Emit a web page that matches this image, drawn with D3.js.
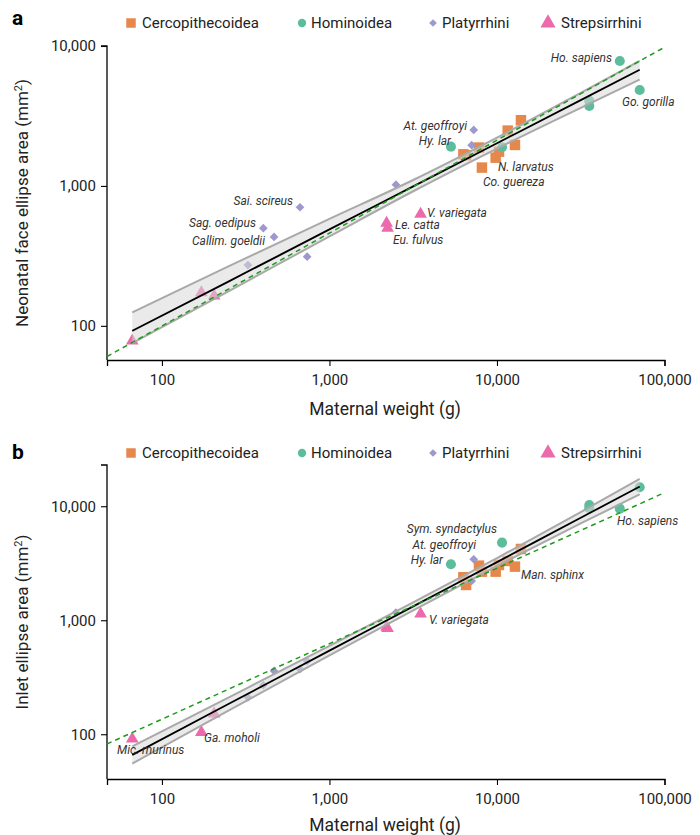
<!DOCTYPE html>
<html><head><meta charset="utf-8">
<script src="https://cdn.jsdelivr.net/npm/d3@7"></script>
<style>
body{margin:0;background:#fff;}
svg text{font-family:Roboto, "Liberation Sans", Arial, sans-serif;fill:#222;}
</style></head>
<body>
<svg id="c" width="700" height="835"></svg>
<script>
// ---------------- DATA ----------------
const groups = ["Cercopithecoidea","Hominoidea","Platyrrhini","Strepsirrhini"];
const xTicks = [100, 1000, 10000, 100000];
const yTicksA = [100, 1000, 10000];
const yTicksB = [100, 1000, 10000];

// maternal weight (g)
const cercoW = [6300, 6540, 7810, 8130, 9820, 10280, 11590, 12800, 13900];
const hominW = [5310, 10720, 35560, 35560, 54100, 71100];
const platyW = [326, 403, 467, 667, 736, 2494, 7063, 7263];
const strepW = [66.5, 172, 205, 2193, 2222, 3499];

// panel a: neonatal face ellipse area (mm2)
const cercoFace = [1683, 1656, 1880, 1352, 1592, 1757, 2485, 1963, 2946];
const hominFace = [1909, 1888, 4064, 3727, 7813, 4851];
const platyFace = [272, 499, 432, 704, 312, 1020, 1955, 2512];
const strepFace = [78, 173, 164, 542, 499, 629];

// panel b: inlet ellipse area (mm2)
const cercoInlet = [2384, 2040, 3013, 2668, 2668, 3054, 3311, 2953, 4217];
const hominInlet = [3100, 4797, 10260, 9600, 9525, 14680];
const platyInlet = [211, 269, 359, 372, 440, 1167, 2213, 3428];
const strepInlet = [91, 104, 151, 869, 851, 1136];

// fitted lines and confidence bands
const bandX = [66.5, 251, 1000, 3162, 10000, 31623, 71100];
const fitA = [92, 208, 489, 993, 2018, 4102, 6761];
const hiA  = [125, 267, 581, 1102, 2213, 4624, 7834];
const loA  = [75.2, 177, 436, 916, 1849, 3614, 5754];
const fitB = [65.8, 185, 541, 1324, 3236, 7925, 14860];
const hiB  = [78.2, 211, 596, 1435, 3508, 8892, 17380];
const loB  = [55.3, 162, 491, 1222, 2985, 7063, 12700];

// isometry reference (green dashed)
const refX = [47, 100000];
const refA = [60.4, 9795];
const refB = [82.2, 13150];

// species annotations
const labelsA = [
  {t:"Ho. sapiens", x:612, y:58, a:"end"},
  {t:"Go. gorilla", x:622, y:102, a:"start"},
  {t:"At. geoffroyi", x:467, y:126, a:"end"},
  {t:"Hy. lar", x:451, y:141, a:"end"},
  {t:"N. larvatus", x:498, y:167, a:"start"},
  {t:"Co. guereza", x:483, y:182, a:"start"},
  {t:"V. variegata", x:427, y:213, a:"start"},
  {t:"Le. catta", x:395, y:225, a:"start"},
  {t:"Eu. fulvus", x:393, y:240, a:"start"},
  {t:"Sai. scireus", x:293, y:201, a:"end"},
  {t:"Sag. oedipus", x:256, y:223, a:"end"},
  {t:"Callim. goeldii", x:265, y:241, a:"end"}
];
const labelsB = [
  {t:"Sym. syndactylus", x:497, y:529, a:"end"},
  {t:"At. geoffroyi", x:476, y:545, a:"end"},
  {t:"Hy. lar", x:443, y:560, a:"end"},
  {t:"Man. sphinx", x:521, y:575, a:"start"},
  {t:"Ho. sapiens", x:617, y:521, a:"start"},
  {t:"V. variegata", x:429, y:620, a:"start"},
  {t:"Ga. moholi", x:204, y:738, a:"start"},
  {t:"Mic. murinus", x:117, y:750, a:"start"}
];

// ---------------- STYLE ----------------
const colors = {Cercopithecoidea:"#E6884B", Hominoidea:"#5CBD9C", Platyrrhini:"#9D99CC", Strepsirrhini:"#EC6AAC"};
const symbols = {Cercopithecoidea:d3.symbolSquare, Hominoidea:d3.symbolCircle, Platyrrhini:d3.symbolSquare, Strepsirrhini:d3.symbolTriangle};
const symRot = {Cercopithecoidea:0, Hominoidea:0, Platyrrhini:45, Strepsirrhini:0};
const symSize = {Cercopithecoidea:110, Hominoidea:80, Platyrrhini:38, Strepsirrhini:70};
const legSize = {Cercopithecoidea:90, Hominoidea:55, Platyrrhini:30, Strepsirrhini:100};

const svg = d3.select("#c");
const fmt = d3.format(",");

function panel(cfg){
  const x = d3.scaleLog().domain([47, 100000]).range([107, 664.5]);
  const y = d3.scaleLog().domain(cfg.yDomain).range(cfg.yRange);
  const g = svg.append("g");

  // panel letter
  g.append("text").attr("x", 12).attr("y", cfg.letterY).text(cfg.letter)
    .style("font-size","21px").style("font-weight","bold").style("fill","#000");

  // legend
  const legX = [131, 302, 433, 548];
  groups.forEach((k,i)=>{
    const lg = g.append("g").attr("transform",`translate(${legX[i]},${cfg.legY})`);
    lg.append("path").attr("d", d3.symbol().type(symbols[k]).size(legSize[k])())
      .attr("transform", `rotate(${symRot[k]})`)
      .attr("fill", colors[k]);
    lg.append("text").attr("x", k==="Strepsirrhini"?13:(k==="Cercopithecoidea"?11:9)).attr("y", 0).attr("dy","0.36em")
      .text(k).style("font-size","15px");
  });

  // axes
  const xa = g.append("g").attr("transform",`translate(0,${cfg.yRange[0]})`)
    .call(d3.axisBottom(x).tickValues(xTicks).tickFormat(fmt).tickSizeOuter(0).tickSize(6).tickPadding(8));
  const ya = g.append("g").attr("transform",`translate(107,0)`)
    .call(d3.axisLeft(y).tickValues(cfg.yTicks).tickFormat(fmt).tickSizeOuter(0).tickSize(6).tickPadding(5));
  [xa,ya].forEach(a=>{
    a.select(".domain").attr("stroke","#000").attr("stroke-width",1.3);
    a.selectAll(".tick line").attr("stroke","#000").attr("stroke-width",1.1);
    a.selectAll(".tick text").style("font-size","15px").style("fill","#222").attr("font-family",null);
  });
  ya.select(".domain").attr("d", `M0,${cfg.yRange[0]}V${cfg.yRange[1]}H-6`);

  g.append("text").attr("x", 385).attr("y", cfg.xLabY).attr("text-anchor","middle")
    .text("Maternal weight (g)").style("font-size","17.5px");
  const yl = g.append("text").attr("transform",`translate(28,${(cfg.yRange[0]+cfg.yRange[1])/2}) rotate(-90)`)
    .attr("text-anchor","middle").style("font-size","17px");
  yl.append("tspan").text(cfg.yLab);
  yl.append("tspan").text("2").attr("baseline-shift","super").style("font-size","11px");
  yl.append("tspan").text(")");

  // points
  const sets = [
    ["Cercopithecoidea", cercoW, cfg.vals[0]],
    ["Hominoidea", hominW, cfg.vals[1]],
    ["Platyrrhini", platyW, cfg.vals[2]],
    ["Strepsirrhini", strepW, cfg.vals[3]]
  ];
  sets.forEach(([k, xs, ys])=>{
    g.append("g").selectAll("path").data(xs.map((v,i)=>[v, ys[i]])).join("path")
      .attr("transform", d=>`translate(${x(d[0])},${y(d[1])}) rotate(${symRot[k]})`)
      .attr("d", d3.symbol().type(symbols[k]).size(symSize[k])())
      .attr("fill", colors[k]);
  });

  // confidence band
  const bd = bandX.map((v,i)=>({x:v, lo:cfg.lo[i], hi:cfg.hi[i], f:cfg.fit[i]}));
  g.append("path").datum(bd)
    .attr("d", d3.area().x(d=>x(d.x)).y0(d=>y(d.lo)).y1(d=>y(d.hi)).curve(d3.curveMonotoneX))
    .attr("fill","#d9d9d9").attr("fill-opacity",0.55);
  ["lo","hi"].forEach(key=>{
    g.append("path").datum(bd)
      .attr("d", d3.line().x(d=>x(d.x)).y(d=>y(d[key])).curve(d3.curveMonotoneX))
      .attr("fill","none").attr("stroke","#a9a9a9").attr("stroke-width",2);
  });
  g.append("path").datum(bd)
    .attr("d", d3.line().x(d=>x(d.x)).y(d=>y(d.f)).curve(d3.curveMonotoneX))
    .attr("fill","none").attr("stroke","#000").attr("stroke-width",1.8);

  // reference dashed line
  g.append("path").datum(refX.map((v,i)=>[v, cfg.ref[i]]))
    .attr("d", d3.line().x(d=>x(d[0])).y(d=>y(d[1])))
    .attr("fill","none").attr("stroke","#1f9a1f").attr("stroke-width",1.5).attr("stroke-dasharray","5,4");

  // labels
  g.append("g").selectAll("text").data(cfg.labels).join("text")
    .attr("x", d=>d.x).attr("y", d=>d.y).attr("dy","0.35em").attr("text-anchor", d=>d.a)
    .text(d=>d.t).style("font-size","12px").style("font-style","italic").style("fill","#333");
}

panel({letter:"a", letterY:25, legY:23, yDomain:[57,10000], yRange:[360,46], yTicks:yTicksA,
  xLabY:415, yLab:"Neonatal face ellipse area (mm",
  vals:[cercoFace, hominFace, platyFace, strepFace], fit:fitA, hi:hiA, lo:loA, ref:refA, labels:labelsA});
panel({letter:"b", letterY:459, legY:453, yDomain:[40.5,23000], yRange:[779,465], yTicks:yTicksB,
  xLabY:831, yLab:"Inlet ellipse area (mm",
  vals:[cercoInlet, hominInlet, platyInlet, strepInlet], fit:fitB, hi:hiB, lo:loB, ref:refB, labels:labelsB});
</script>
</body></html>
